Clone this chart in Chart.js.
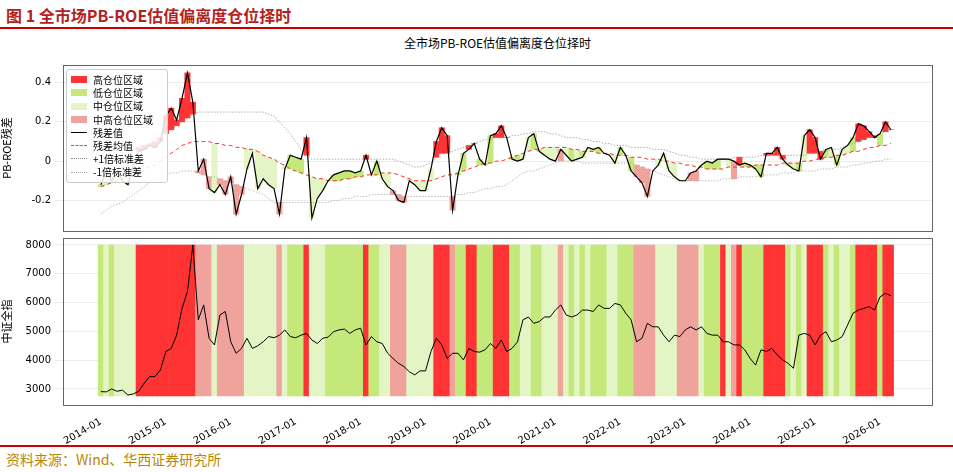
<!DOCTYPE html>
<html><head><meta charset="utf-8">
<script src="https://cdn.jsdelivr.net/npm/chart.js@4.4.1/dist/chart.umd.min.js"></script>
<style>
body{margin:0;width:953px;height:472px;background:#fff;position:relative;overflow:hidden;font-family:"DejaVu Sans","Noto Sans CJK SC",sans-serif}
.abs{position:absolute}
#hdr{left:6px;top:3px;font-size:16px;font-weight:bold;color:#b22222;font-family:"Noto Sans CJK SC","DejaVu Sans";}
#l1{left:0;top:27px;width:953px;height:2px;background:#d00000}
#l2{left:0;top:445px;width:953px;height:2px;background:#d00000}
#ftr{left:6px;top:449px;font-size:14px;color:#b8860b;font-family:"Noto Sans CJK SC";}
#ttl{left:63px;width:869px;top:34px;text-align:center;font-size:12px;color:#000;font-family:"Noto Sans CJK SC"}
#leg{left:66px;top:69px;width:92px;padding:3px 4px;border:1px solid #ccc;border-radius:3px;background:rgba(255,255,255,0.85);font-size:10px;font-family:"Noto Sans CJK SC";line-height:13.2px;z-index:5}
#leg div{display:flex;align-items:center;white-space:nowrap}
#leg span.p{display:inline-block;width:16px;height:7px;margin-right:6px}
#leg span.ln{display:inline-block;width:16px;height:0;margin-right:6px}
</style></head><body>
<div id="hdr" class="abs">图 1 全市场PB-ROE估值偏离度仓位择时</div>
<div id="l1" class="abs"></div>
<div id="ttl" class="abs">全市场PB-ROE估值偏离度仓位择时</div>
<div class="abs" style="left:0;top:228px;width:953px;height:218px"><canvas id="c2"></canvas></div>
<div class="abs" style="left:0;top:55px;width:953px;height:186px"><canvas id="c1"></canvas></div>
<div id="leg" class="abs">
<div><span class="p" style="background:#ff3333"></span>高仓位区域</div>
<div><span class="p" style="background:#c5e87b"></span>低仓位区域</div>
<div><span class="p" style="background:#e4f5c5"></span>中仓位区域</div>
<div><span class="p" style="background:#f0a39c"></span>中高仓位区域</div>
<div><span class="ln" style="border-top:1.5px solid #000"></span>残差值</div>
<div><span class="ln" style="border-top:1px dashed #f33"></span>残差均值</div>
<div><span class="ln" style="border-top:1px dotted #888"></span>+1倍标准差</div>
<div><span class="ln" style="border-top:1px dotted #aaa"></span>-1倍标准差</div>
</div>
<div id="l2" class="abs"></div>
<div id="ftr" class="abs">资料来源：Wind、华西证券研究所</div>
<script>
// months since 2014-01
const startYear = 2014;
const yearTicks = [0,12,24,36,48,60,72,84,96,108,120,132,144];
const residual = [
-0.12,-0.05,-0.10,-0.05,-0.10,-0.12,-0.02,0.05,0.06,0.08,0.07,0.10,
0.23,0.27,0.21,0.32,0.45,0.30,-0.05,0.01,-0.14,-0.16,-0.12,-0.17,
-0.08,-0.27,-0.17,-0.04,0.04,-0.14,-0.09,-0.12,-0.14,-0.27,-0.04,0.03,
0.02,0.01,0.12,-0.29,-0.19,-0.15,-0.10,-0.07,-0.06,-0.05,-0.05,-0.06,
-0.05,0.03,-0.07,0.00,-0.09,-0.13,-0.15,-0.20,-0.21,-0.10,-0.12,-0.15,
-0.15,-0.04,0.10,0.17,0.13,-0.25,-0.07,0.04,0.06,0.09,0.01,-0.02,
0.13,0.14,0.18,0.12,0.01,0.00,0.01,0.12,0.14,0.05,0.03,0.01,
0.00,0.06,0.03,0.00,0.01,0.02,0.07,0.06,0.07,0.04,0.03,-0.01,
0.07,0.03,-0.05,-0.08,-0.11,-0.18,-0.05,-0.02,0.04,-0.05,-0.08,-0.10,
-0.10,-0.06,-0.05,-0.02,0.00,-0.01,0.01,0.01,0.01,0.00,-0.02,-0.01,
-0.02,-0.04,-0.08,0.04,0.04,0.07,0.01,-0.02,-0.04,-0.05,0.13,0.16,
0.12,0.01,0.06,0.07,-0.02,0.06,0.08,0.12,0.19,0.18,0.15,0.12,
0.14,0.20,0.16];
const meanLine = [
-0.13,-0.12,-0.11,-0.10,-0.09,-0.08,-0.07,-0.06,-0.04,-0.03,-0.02,0.00,
0.02,0.04,0.06,0.08,0.09,0.10,0.10,0.10,0.10,0.09,0.09,0.08,
0.08,0.07,0.07,0.06,0.06,0.05,0.03,0.02,0.01,-0.01,-0.02,-0.04,
-0.05,-0.06,-0.07,-0.08,-0.09,-0.09,-0.10,-0.10,-0.10,-0.09,-0.09,-0.08,
-0.08,-0.07,-0.07,-0.07,-0.06,-0.06,-0.06,-0.07,-0.08,-0.09,-0.10,-0.10,
-0.10,-0.10,-0.09,-0.08,-0.07,-0.07,-0.06,-0.05,-0.04,-0.03,-0.02,-0.01,
-0.01,0.00,0.00,0.01,0.02,0.03,0.04,0.05,0.06,0.06,0.07,0.07,
0.07,0.07,0.07,0.06,0.06,0.05,0.05,0.05,0.04,0.04,0.04,0.03,
0.03,0.03,0.02,0.02,0.02,0.01,0.01,0.01,0.00,0.00,-0.01,-0.01,
-0.02,-0.02,-0.03,-0.03,-0.04,-0.04,-0.04,-0.04,-0.03,-0.03,-0.03,-0.03,
-0.03,-0.02,-0.02,-0.02,-0.02,-0.02,-0.01,-0.01,-0.01,-0.01,0.00,0.00,
0.01,0.01,0.02,0.02,0.03,0.03,0.04,0.05,0.05,0.06,0.07,0.07,
0.08,0.08,0.09];
const upperBand = [
0.00,0.01,0.02,0.03,0.04,0.05,0.06,0.07,0.08,0.09,0.10,0.12,
0.14,0.16,0.18,0.20,0.22,0.24,0.25,0.25,0.25,0.25,0.25,0.25,
0.25,0.25,0.25,0.25,0.25,0.25,0.25,0.24,0.23,0.20,0.17,0.14,
0.10,0.06,0.03,0.01,0.01,0.01,0.01,0.01,0.01,0.01,0.01,0.01,
0.01,0.01,0.01,0.01,0.01,0.01,0.01,0.00,-0.01,-0.02,-0.03,-0.03,
-0.02,-0.01,0.02,0.04,0.04,0.05,0.06,0.07,0.08,0.09,0.10,0.11,
0.11,0.12,0.12,0.12,0.13,0.13,0.14,0.14,0.15,0.15,0.15,0.14,
0.14,0.13,0.12,0.12,0.12,0.11,0.11,0.10,0.10,0.09,0.09,0.08,
0.08,0.08,0.07,0.07,0.07,0.07,0.06,0.06,0.06,0.05,0.04,0.03,
0.03,0.02,0.02,0.01,0.01,0.01,0.01,0.01,0.01,0.02,0.02,0.02,
0.02,0.02,0.03,0.03,0.03,0.03,0.03,0.03,0.03,0.03,0.03,0.04,
0.04,0.05,0.05,0.06,0.06,0.07,0.08,0.09,0.10,0.11,0.12,0.13,
0.14,0.15,0.16];
const lowerBand = [
-0.27,-0.25,-0.23,-0.22,-0.21,-0.19,-0.17,-0.15,-0.13,-0.11,-0.09,-0.08,
-0.07,-0.06,-0.06,-0.05,-0.05,-0.05,-0.06,-0.07,-0.08,-0.08,-0.09,-0.10,
-0.11,-0.12,-0.13,-0.14,-0.15,-0.16,-0.17,-0.19,-0.21,-0.21,-0.21,-0.21,
-0.21,-0.21,-0.21,-0.21,-0.21,-0.21,-0.21,-0.20,-0.20,-0.19,-0.19,-0.18,
-0.18,-0.18,-0.17,-0.17,-0.17,-0.17,-0.17,-0.17,-0.18,-0.18,-0.18,-0.18,
-0.18,-0.18,-0.18,-0.18,-0.18,-0.18,-0.17,-0.17,-0.16,-0.16,-0.15,-0.14,
-0.14,-0.13,-0.13,-0.12,-0.10,-0.08,-0.06,-0.05,-0.05,-0.04,-0.03,-0.02,
-0.01,0.00,0.00,0.00,0.00,-0.01,-0.01,-0.01,-0.01,-0.01,-0.01,-0.01,
-0.01,-0.01,-0.01,-0.02,-0.03,-0.04,-0.05,-0.06,-0.07,-0.08,-0.09,-0.10,
-0.10,-0.10,-0.10,-0.10,-0.10,-0.10,-0.10,-0.09,-0.09,-0.09,-0.08,-0.08,
-0.08,-0.08,-0.07,-0.07,-0.07,-0.07,-0.06,-0.06,-0.06,-0.05,-0.05,-0.05,
-0.05,-0.04,-0.04,-0.04,-0.03,-0.03,-0.03,-0.02,-0.02,-0.01,-0.01,0.00,
0.00,0.01,0.01];
const indexValues = [
2910,2900,3000,2920,2960,2790,2830,2920,3200,3430,3430,3660,
4300,4410,4870,5800,6380,8000,5400,5920,4760,4530,5570,5690,
4640,4240,4410,4760,4410,4500,4640,4820,4780,4870,5050,4820,
4780,4870,4930,4700,4580,4760,4800,4990,5050,5080,4930,5050,
5110,4530,4820,4640,4580,4240,4060,3890,3780,3600,3490,3630,
3630,4300,4760,4530,4060,4240,4240,4010,4410,4300,4280,4360,
4580,4410,4700,4300,4410,4640,5400,5500,5280,5340,5500,5500,
5740,5920,5570,5500,5570,5740,5740,5690,5920,5800,5800,5970,
5920,5630,5400,4640,4760,5280,5160,5160,4870,4640,4870,4820,
5050,5160,5050,5160,4930,4870,4870,4640,4640,4530,4530,4360,
4060,3830,4360,4300,4410,4180,4010,3890,3720,4870,4930,4870,
4530,4870,4990,4640,4700,4820,5220,5630,5740,5800,5860,5740,
6200,6320,6240];
const zones = [
'L','M','L','M','M','M','M','H','H','H','H','H',
'H','H','H','H','H','H','MH','MH','MH','M','MH','MH',
'MH','MH','MH','M','M','M','M','M','M','MH','M','L',
'L','L','H','M','M','M','L','L','L','L','L','L',
'L','H','L','L','M','M','MH','MH','MH','M','M','M',
'M','M','H','H','H','MH','L','L','H','H','L','L',
'L','H','H','H','L','L','M','M','L','L','M','M',
'M','MH','M','L','M','L','M','L','L','L','M','M',
'L','L','L','MH','MH','MH','MH','M','M','M','M','MH',
'MH','MH','MH','M','L','L','L','H','M','MH','H','L',
'L','L','L','H','H','H','H','L','M','L','M','H',
'H','H','L','M','L','M','M','L','H','H','H','H',
'L','H','H'];
const zoneColor = {H:'#ff3333', L:'#c5e87b', M:'#e4f5c5', MH:'#f0a39c'};
const bandBottom = 2760, bandTop = 8000;

const months = residual.map((_, i) => i);
const refFor = (z, i) => z==='H' ? upperBand[i] : z==='MH' ? lowerBand[i] : meanLine[i];
const font = {family:'"DejaVu Sans"', size:10};
const frame = {id:'frame', afterDraw(c){const a=c.chartArea,x=c.ctx;x.save();x.strokeStyle='#666';x.lineWidth=1;x.strokeRect(a.left+0.5,a.top+0.5,a.right-a.left,a.bottom-a.top);x.restore();}};
const xBase = {type:'linear', min:-7, max:153.6, offset:false, grid:{display:false, offset:false},
  afterBuildTicks(s){s.ticks = yearTicks.map(v=>({value:v}));}};
function yAxis(ticks, min, max, title){
  return {min, max, grid:{color:'#ececec'}, border:{display:false},
    afterBuildTicks(s){s.ticks = ticks.map(v=>({value:v}));},
    afterFit(s){s.width = 63;},
    ticks:{font, color:'#000', padding:4, callback:v=>v},
    title:{display:true, text:title, font:{family:'"Noto Sans CJK SC"', size:11}, color:'#000', padding:{top:0,bottom:2}}};
}
Chart.defaults.animation = false;
new Chart(document.getElementById('c1'), {
  data:{datasets:[
    {type:'bar', data:months.map(i=>({x:i, y:[residual[i], refFor(zones[i], i)]})), backgroundColor:zones.map(z=>zoneColor[z]), barPercentage:1, categoryPercentage:1, borderWidth:0, order:5},
    {type:'line', data:months.map(i=>({x:i,y:upperBand[i]})), borderColor:'#999', borderWidth:0.8, borderDash:[1.5,1.5], pointRadius:0, order:3},
    {type:'line', data:months.map(i=>({x:i,y:lowerBand[i]})), borderColor:'#aaa', borderWidth:0.8, borderDash:[1.5,1.5], pointRadius:0, order:3},
    {type:'line', data:months.map(i=>({x:i,y:meanLine[i]})), borderColor:'#ff3030', borderWidth:1, borderDash:[4,3], pointRadius:0, order:2},
    {type:'line', data:months.map(i=>({x:i,y:residual[i]})), borderColor:'#000', borderWidth:1.2, pointRadius:0, order:1}
  ]},
  options:{responsive:true, maintainAspectRatio:false, layout:{padding:{top:5,bottom:3,left:0,right:21}},
    plugins:{legend:{display:false}, tooltip:{enabled:false}},
    scales:{x:{...xBase, display:false}, y:yAxis([-0.2,0,0.2,0.4], -0.356, 0.49, 'PB-ROE残差')}},
  plugins:[frame]
});
new Chart(document.getElementById('c2'), {
  data:{datasets:[
    {type:'bar', data:months.map(i=>({x:i, y:[bandBottom, bandTop]})), backgroundColor:zones.map(z=>zoneColor[z]), barPercentage:1, categoryPercentage:1, borderWidth:0, order:2},
    {type:'line', data:months.map(i=>({x:i,y:indexValues[i]})), borderColor:'#000', borderWidth:1, pointRadius:0, order:1}
  ]},
  options:{responsive:true, maintainAspectRatio:false, layout:{padding:{top:2,bottom:0,left:0,right:21}},
    plugins:{legend:{display:false}, tooltip:{enabled:false}},
    scales:{x:{...xBase, afterFit(s){s.height=41;}, border:{display:false},
        ticks:{font, color:'#000', maxRotation:30, minRotation:30, autoSkip:false,
          callback:v=>(startYear + v/12) + '-01'}},
      y:yAxis([3000,4000,5000,6000,7000,8000], 2444, 8243, '中证全指')}},
  plugins:[frame]
});
</script></body></html>
